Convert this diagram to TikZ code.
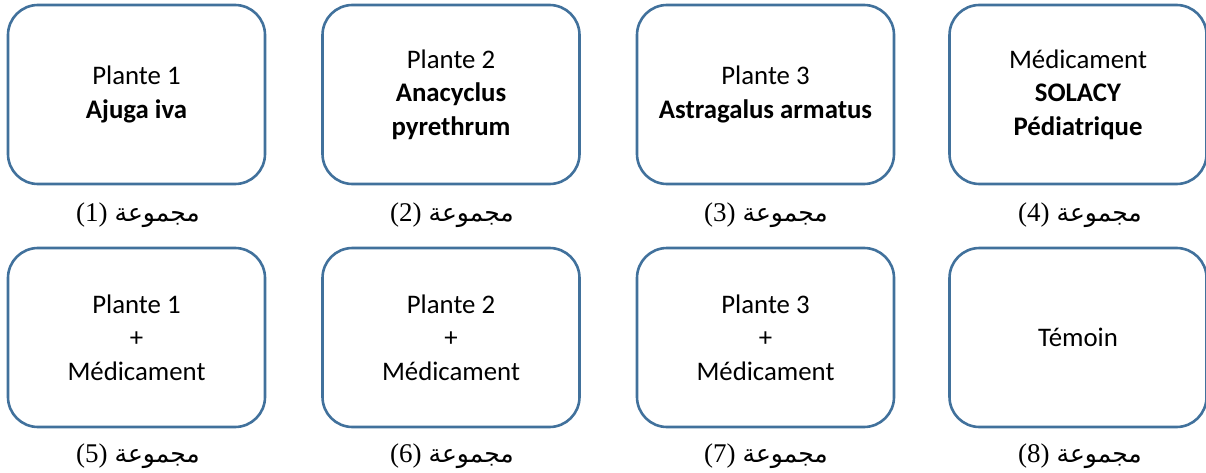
\documentclass[tikz,border=0pt]{standalone}
\usepackage{fontspec}
\setmainfont{Carlito}
\newfontfamily\arabicfont[Script=Arabic]{DejaVu Sans}
\newfontfamily\seriffont{Liberation Serif}
\TeXXeTstate=1
\definecolor{boxblue}{HTML}{41719C}
\newcommand\grplabel[1]{{\seriffont\fontsize{27}{30}\selectfont(#1)}\hspace{7pt}{\arabicfont\fontsize{25}{30}\selectfont\beginR مجموعة\endR}}
\begin{document}
\begin{tikzpicture}[x=1pt,y=-1pt,
  grp/.style={draw=boxblue, line width=2.6pt, rounded corners=30pt,
    minimum width=257pt, minimum height=179pt, align=center,
    font=\fontsize{26.8}{33.5}\selectfont, inner sep=0pt},
  lab/.style={inner sep=0pt, anchor=base}]
\useasboundingbox (0,0) rectangle (1206,473);
% row 1
\node[grp] (g1) at (136.5,94.5) {Plante 1\\\textbf{Ajuga iva}};
\node[grp] (g2) at (451,94.5) {Plante 2\\\textbf{Anacyclus}\\\textbf{pyrethrum}};
\node[grp] (g3) at (765.5,94.5) {Plante 3\\\textbf{Astragalus armatus}};
\node[grp] (g4) at (1078,94.5) {Médicament\\\textbf{SOLACY}\\\textbf{Pédiatrique}};
% row 2
\node[grp] (g5) at (136.5,337.5) {Plante 1\\+\\Médicament};
\node[grp] (g6) at (451,337.5) {Plante 2\\+\\Médicament};
\node[grp] (g7) at (765.5,337.5) {Plante 3\\+\\Médicament};
\node[grp] (g8) at (1078,337.5) {Témoin};
% labels
\node[lab] (l1) at (138,221) {\grplabel{1}};
\node[lab] (l2) at (452,221) {\grplabel{2}};
\node[lab] (l3) at (766,221) {\grplabel{3}};
\node[lab] (l4) at (1080,221) {\grplabel{4}};
\node[lab] (l5) at (138,462) {\grplabel{5}};
\node[lab] (l6) at (452,462) {\grplabel{6}};
\node[lab] (l7) at (766,462) {\grplabel{7}};
\node[lab] (l8) at (1080,462) {\grplabel{8}};
\end{tikzpicture}
\end{document}
